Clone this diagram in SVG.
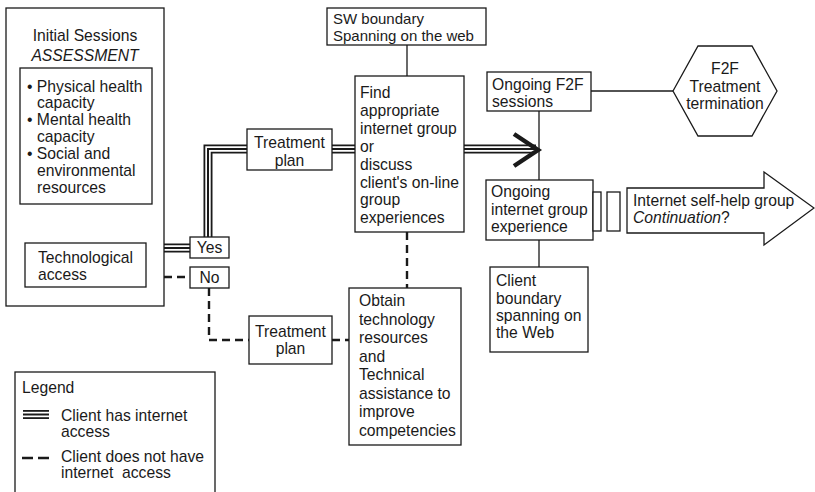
<svg xmlns="http://www.w3.org/2000/svg" width="815" height="492" viewBox="0 0 815 492">
<style>
text{font-family:"Liberation Sans",Arial,sans-serif;font-size:15.7px;fill:#1a1a1a}
.c{text-anchor:middle}
.it{font-style:italic}
.sm{font-size:15px}
.box{fill:#fff;stroke:#1a1a1a;stroke-width:1.3}
.thin{fill:none;stroke:#1a1a1a;stroke-width:1.3}
.dash{fill:none;stroke:#1a1a1a;stroke-width:2.4;stroke-dasharray:8 5}
.t1{fill:none;stroke:#1a1a1a;stroke-width:9;stroke-linejoin:miter}
.t2{fill:none;stroke:#fff;stroke-width:5.4;stroke-linejoin:miter}
.t3{fill:none;stroke:#1a1a1a;stroke-width:2;stroke-linejoin:miter}
</style>
<rect width="815" height="492" fill="#fff"/>
<g id="connectors">
  <g id="internet-path">
    <path class="t1" d="M164 248H190M208 237V149H247M332 149H355M464 149H536"/>
    <path class="t2" d="M164 248H190M208 237V149H247M332 149H355M464 149H536"/>
    <path class="t3" d="M164 248H190M208 237V149H247M332 149H355M464 149H536"/>
    <polyline points="514,134 538,150 514,166" fill="none" stroke="#1a1a1a" stroke-width="4.5"/>
  </g>
  <path class="dash" d="M164 277H190"/>
  <path class="dash" d="M209 288V340H249"/>
  <path class="dash" d="M332 340H349"/>
  <path class="dash" d="M407 232V288"/>
  <path class="thin" d="M407 45V76"/>
  <path class="thin" d="M539 111V180M539 240V267"/>
  <path class="thin" d="M591 91H673"/>
</g>
<g id="initial-sessions">
  <rect class="box" x="6" y="8" width="158" height="298"/>
  <text class="c" x="85" y="41">Initial Sessions</text>
  <text class="c it" x="85" y="61">ASSESSMENT</text>
</g>
<g id="assessment-list">
  <rect class="box" x="20" y="68" width="132" height="136"/>
  <text x="27" y="92">• Physical health</text>
  <text x="37" y="108">capacity</text>
  <text x="27" y="125">• Mental health</text>
  <text x="37" y="142">capacity</text>
  <text x="27" y="159">• Social and</text>
  <text x="37" y="176">environmental</text>
  <text x="37" y="193">resources</text>
</g>
<g id="tech-access">
  <rect class="box" x="25" y="243" width="121" height="44"/>
  <text x="38" y="263">Technological</text>
  <text x="38" y="280">access</text>
</g>
<g id="yes">
  <rect class="box" x="190" y="237" width="39" height="21"/>
  <text class="c" x="209.5" y="253">Yes</text>
</g>
<g id="no">
  <rect class="box" x="190" y="267" width="39" height="21"/>
  <text class="c" x="209.5" y="283">No</text>
</g>
<g id="treatment-plan-1">
  <rect class="box" x="247" y="129" width="85" height="41"/>
  <text class="c" x="289.5" y="148">Treatment</text>
  <text class="c" x="289.5" y="166">plan</text>
</g>
<g id="treatment-plan-2">
  <rect class="box" x="249" y="316" width="83" height="48"/>
  <text class="c" x="290.5" y="337">Treatment</text>
  <text class="c" x="290.5" y="354">plan</text>
</g>
<g id="sw-boundary">
  <rect class="box" x="327" y="8" width="159" height="37"/>
  <text class="sm" x="333" y="24">SW boundary</text>
  <text class="sm" x="333" y="41">Spanning on the web</text>
</g>
<g id="find-group">
  <rect class="box" x="355" y="76" width="109" height="156"/>
  <text x="360" y="98">Find</text>
  <text x="360" y="116">appropriate</text>
  <text x="360" y="134">internet group</text>
  <text x="360" y="152">or</text>
  <text x="360" y="170">discuss</text>
  <text x="360" y="188">client's on-line</text>
  <text x="360" y="205">group</text>
  <text x="360" y="223">experiences</text>
</g>
<g id="obtain">
  <rect class="box" x="349" y="288" width="112" height="157"/>
  <text x="359" y="306">Obtain</text>
  <text x="359" y="324.5">technology</text>
  <text x="359" y="343">resources</text>
  <text x="359" y="361.5">and</text>
  <text x="359" y="380">Technical</text>
  <text x="359" y="398.5">assistance to</text>
  <text x="359" y="417">improve</text>
  <text x="359" y="435.5">competencies</text>
</g>
<g id="ongoing-f2f">
  <rect class="box" x="487" y="72" width="104" height="39"/>
  <text x="492" y="90">Ongoing F2F</text>
  <text x="492" y="107">sessions</text>
</g>
<g id="f2f-termination">
  <polygon class="box" points="673,91 698,46 752,46 777,91 752,136 698,136"/>
  <text class="c" x="725" y="74">F2F</text>
  <text class="c" x="725" y="91.5">Treatment</text>
  <text class="c" x="725" y="109">termination</text>
</g>
<g id="ongoing-internet">
  <rect class="box" x="486" y="180" width="107" height="60"/>
  <text x="491" y="197">Ongoing</text>
  <text x="491" y="214.5">internet group</text>
  <text x="491" y="232">experience</text>
</g>
<g id="client-boundary">
  <rect class="box" x="490" y="267" width="98" height="85"/>
  <text x="496" y="286">Client</text>
  <text x="496" y="303.5">boundary</text>
  <text x="496" y="321">spanning on</text>
  <text x="496" y="338">the Web</text>
</g>
<g id="gap-bars">
  <rect class="box" x="593" y="192" width="8" height="39"/>
  <rect class="box" x="607" y="192" width="13" height="39"/>
</g>
<g id="self-help-arrow">
  <polygon class="box" points="627,188 764,188 764,172 814,208 764,245 764,233 627,233"/>
  <text x="633" y="206">Internet self-help group</text>
  <text x="633" y="223"><tspan class="it">Continuation</tspan>?</text>
</g>
<g id="legend">
  <rect class="box" x="15" y="372" width="200" height="130"/>
  <text x="22" y="393">Legend</text>
  <path class="t1" d="M23 414.5H49"/>
  <path class="t2" d="M23 414.5H49"/>
  <path class="t3" d="M23 414.5H49"/>
  <text x="61" y="421">Client has internet</text>
  <text x="61" y="437">access</text>
  <path d="M22 458H33M38 458H49" stroke="#1a1a1a" stroke-width="2.4" fill="none"/>
  <text x="61" y="462">Client does not have</text>
  <text x="61" y="478" xml:space="preserve">internet  access</text>
</g>
</svg>
